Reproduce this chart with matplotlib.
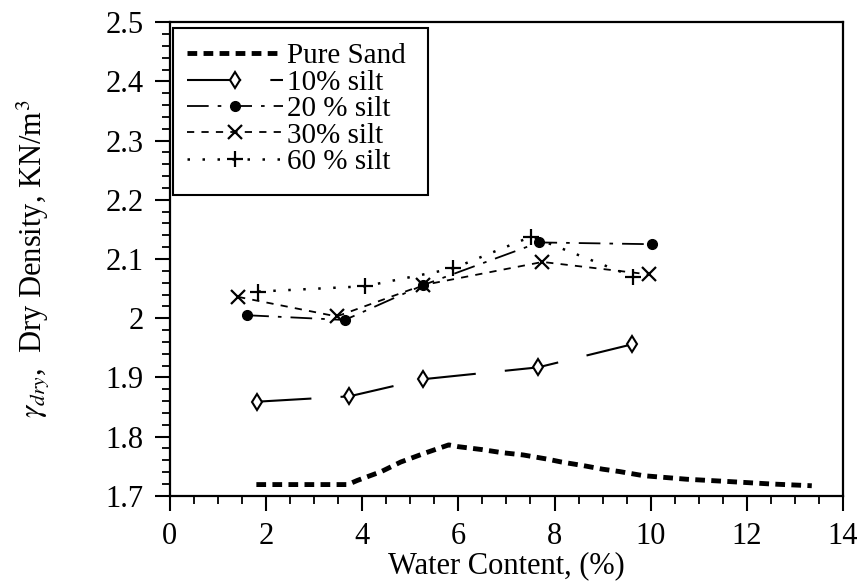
import matplotlib
matplotlib.use('Agg')
import matplotlib.pyplot as plt
from matplotlib.patches import Rectangle
from matplotlib.ticker import MultipleLocator

plt.rcParams['font.family'] = ['Liberation Serif', 'DejaVu Serif']
plt.rcParams['mathtext.fontset'] = 'stix'

# Pure sand (curve)
sand_w = [1.8, 3.7, 3.9, 4.4, 4.8, 5.3, 5.8, 6.0, 6.5, 6.9, 7.35, 7.85, 8.15, 8.6, 9.0, 9.35, 9.85, 10.75, 11.65, 12.5, 13.35]
sand_d = [1.719, 1.719, 1.726, 1.741, 1.757, 1.772, 1.786, 1.783, 1.778, 1.773, 1.769, 1.762, 1.757, 1.751, 1.745, 1.741, 1.734, 1.728, 1.724, 1.720, 1.717]

# silt mixes
s10_w = [1.82, 3.73, 5.27, 7.66, 9.62]
s10_d = [1.859, 1.868, 1.897, 1.917, 1.956]

s20_w = [1.61, 3.64, 5.27, 7.68, 10.02]
s20_d = [2.005, 1.997, 2.056, 2.128, 2.125]

s30_w = [1.42, 3.47, 5.27, 7.75, 9.96]
s30_d = [2.036, 2.003, 2.056, 2.095, 2.074]

s60_w = [1.84, 4.06, 5.89, 7.52, 9.64]
s60_d = [2.045, 2.054, 2.084, 2.138, 2.07]

fig = plt.figure(figsize=(8.62, 5.84), dpi=100)
ax = fig.add_axes([0.197, 0.151, 0.781, 0.811])

ax.plot(sand_w, sand_d, color='black', lw=3.5, linestyle=(0, (2, 1.3)), label='Pure Sand')
ax.plot(s10_w, s10_d, color='black', lw=1.5, linestyle=(0, (26, 14)),
        marker='d', ms=8, mfc='white', mew=1.5, label='10% silt')
ax.plot(s20_w, s20_d, color='black', lw=1.3, linestyle=(0, (12, 5, 2, 5)),
        marker='o', ms=7, mfc='black', label='20 % silt')
ax.plot(s30_w, s30_d, color='black', lw=1.3, linestyle=(0, (4, 4)),
        marker='x', ms=10, mew=1.6, label='30% silt')
ax.plot(s60_w, s60_d, color='black', lw=1.8, linestyle=(0, (1, 5)),
        marker='+', ms=12, mew=1.6, label='60 % silt')

ax.set_xlim(0, 14)
ax.set_ylim(1.7, 2.5)
ax.xaxis.set_major_locator(MultipleLocator(2))
ax.xaxis.set_minor_locator(MultipleLocator(0.5))
ax.yaxis.set_minor_locator(MultipleLocator(0.02))
ax.set_yticks([1.7, 1.8, 1.9, 2.0, 2.1, 2.2, 2.3, 2.4, 2.5])
ax.set_yticklabels(['1.7', '1.8', '1.9', '2', '2.1', '2.2', '2.3', '2.4', '2.5'])

ax.tick_params(which='major', direction='out', length=11, width=1.5, labelsize=22, colors='black')
ax.tick_params(which='minor', direction='out', length=6, width=1.3)
ax.tick_params(axis='x', which='major', pad=8)
ax.tick_params(axis='y', which='major', pad=8)
for sp in ax.spines.values():
    sp.set_linewidth(1.6)

ax.set_xlabel('Water Content, (%)', fontsize=22, labelpad=0)
ax.set_ylabel(r'$\gamma_{dry}$,  Dry Density, KN/m$^3$', fontsize=22)
ax.yaxis.set_label_coords(-0.175, 0.5)

# legend entries without frame, box drawn separately (it is taller than the rows)
leg = ax.legend(loc='upper left', bbox_to_anchor=(0.025, 0.956), fontsize=21,
                handlelength=3.3, handletextpad=0.15, labelspacing=0.0,
                borderaxespad=0, borderpad=0, numpoints=1, frameon=False)
ax.add_patch(Rectangle((0.0045, 0.635), 0.379, 0.352, transform=ax.transAxes,
                       fill=False, edgecolor='black', lw=1.5, zorder=5))

fig.savefig('out.png', dpi=100)
